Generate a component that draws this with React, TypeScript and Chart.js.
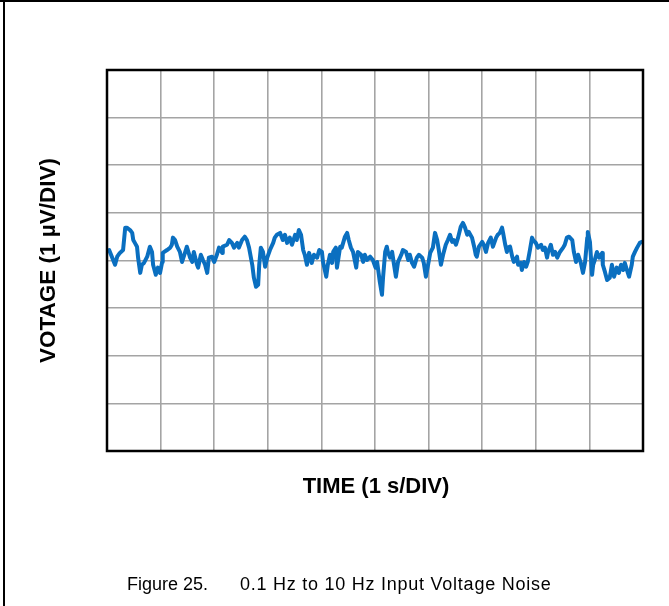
import React, { useEffect, useRef } from "react";
import { Chart, registerables } from "chart.js";

Chart.register(...registerables);

// Time axis (s) and input-referred noise voltage (µV), 0.1 Hz to 10 Hz band
const timeS: number[] = [
  0.04, 0.15, 0.19, 0.24, 0.30, 0.34, 0.37, 0.43, 0.47, 0.49, 0.52, 0.56, 0.58, 0.62, 0.65, 0.69, 0.75, 0.80, 0.84, 0.86,
  0.91, 0.95, 0.99, 1.03, 1.04, 1.12, 1.18, 1.21, 1.23, 1.27, 1.31, 1.36, 1.40, 1.46, 1.49, 1.55, 1.59, 1.62, 1.68, 1.70,
  1.75, 1.79, 1.83, 1.87, 1.90, 1.96, 2.00, 2.05, 2.09, 2.15, 2.16, 2.24, 2.28, 2.33, 2.37, 2.43, 2.46, 2.52, 2.57, 2.61,
  2.65, 2.71, 2.74, 2.78, 2.82, 2.84, 2.87, 2.91, 2.95, 2.99, 3.04, 3.10, 3.13, 3.17, 3.23, 3.28, 3.32, 3.36, 3.41, 3.45,
  3.51, 3.54, 3.58, 3.62, 3.66, 3.69, 3.73, 3.77, 3.82, 3.86, 3.92, 3.96, 4.01, 4.03, 4.09, 4.12, 4.16, 4.20, 4.22, 4.27,
  4.29, 4.35, 4.38, 4.44, 4.48, 4.51, 4.55, 4.59, 4.65, 4.68, 4.74, 4.78, 4.81, 4.85, 4.91, 4.96, 5.01, 5.04, 5.09, 5.13,
  5.15, 5.19, 5.22, 5.24, 5.28, 5.32, 5.35, 5.39, 5.43, 5.49, 5.52, 5.58, 5.62, 5.65, 5.69, 5.73, 5.78, 5.82, 5.88, 5.91,
  5.95, 5.99, 6.03, 6.08, 6.12, 6.16, 6.19, 6.23, 6.27, 6.32, 6.36, 6.40, 6.44, 6.47, 6.51, 6.55, 6.60, 6.64, 6.68, 6.72,
  6.75, 6.81, 6.85, 6.88, 6.90, 6.94, 7.00, 7.03, 7.07, 7.11, 7.16, 7.20, 7.26, 7.29, 7.33, 7.37, 7.39, 7.43, 7.46, 7.48,
  7.52, 7.56, 7.59, 7.65, 7.67, 7.72, 7.74, 7.78, 7.82, 7.85, 7.89, 7.93, 7.95, 8.00, 8.04, 8.10, 8.13, 8.17, 8.21, 8.23,
  8.28, 8.32, 8.36, 8.40, 8.45, 8.51, 8.54, 8.58, 8.62, 8.68, 8.71, 8.75, 8.79, 8.84, 8.88, 8.92, 8.96, 8.97, 9.01, 9.05,
  9.07, 9.10, 9.14, 9.18, 9.24, 9.25, 9.29, 9.33, 9.38, 9.42, 9.46, 9.51, 9.55, 9.59, 9.63, 9.66, 9.70, 9.74, 9.79, 9.81,
  9.85, 9.89, 9.94, 9.98,
];

const noiseUV: number[] = [
  0.22, -0.09, 0.08, 0.16, 0.22, 0.69, 0.69, 0.64, 0.58, 0.43, 0.37, 0.29, 0.06, -0.26, -0.09, -0.05, 0.08, 0.29, 0.18, -0.09,
  -0.30, -0.15, -0.26, -0.03, 0.16, 0.22, 0.27, 0.33, 0.48, 0.43, 0.29, 0.18, -0.03, 0.18, 0.29, 0.06, -0.03, 0.18, -0.09, -0.15,
  0.12, 0.01, -0.09, -0.26, 0.06, 0.08, -0.03, 0.12, 0.27, 0.16, 0.29, 0.33, 0.43, 0.37, 0.27, 0.37, 0.27, 0.43, 0.50, 0.43,
  0.27, -0.09, -0.36, -0.55, -0.51, -0.09, 0.27, 0.18, -0.13, 0.06, 0.22, 0.37, 0.48, 0.54, 0.58, 0.43, 0.54, 0.37, 0.48, 0.33,
  0.54, 0.43, 0.64, 0.54, 0.22, 0.12, -0.09, 0.16, -0.05, 0.12, 0.06, 0.22, 0.18, -0.03, -0.34, -0.09, 0.12, -0.05, 0.18, 0.27,
  -0.15, 0.29, 0.27, 0.50, 0.58, 0.43, 0.27, 0.18, -0.15, 0.18, 0.12, -0.03, 0.12, 0.01, 0.08, 0.01, -0.15, -0.03, -0.45, -0.72,
  -0.36, 0.18, 0.29, 0.18, 0.06, 0.18, -0.05, -0.34, -0.03, 0.12, 0.22, 0.18, 0.01, 0.12, -0.05, -0.13, 0.06, 0.12, 0.06, -0.05,
  -0.34, -0.09, 0.16, 0.27, 0.58, 0.43, 0.22, -0.09, 0.12, 0.33, 0.43, 0.54, 0.39, 0.43, 0.33, 0.48, 0.71, 0.79, 0.69, 0.54,
  0.60, 0.48, 0.29, 0.12, 0.08, 0.29, 0.39, 0.33, 0.18, 0.37, 0.48, 0.29, 0.48, 0.54, 0.58, 0.69, 0.58, 0.33, 0.18, 0.27,
  0.29, 0.08, -0.03, 0.08, -0.09, -0.05, -0.20, -0.03, -0.13, -0.03, 0.22, 0.48, 0.43, 0.37, 0.27, 0.33, 0.22, 0.27, 0.06, 0.18,
  0.33, 0.12, 0.18, 0.06, 0.18, 0.27, 0.33, 0.48, 0.50, 0.43, 0.18, -0.03, 0.12, -0.05, -0.26, -0.03, 0.48, 0.60, 0.39, -0.30,
  -0.09, 0.01, 0.18, 0.06, 0.16, -0.09, -0.24, -0.41, -0.36, -0.09, -0.34, -0.15, -0.26, -0.09, -0.20, -0.05, -0.20, -0.34, -0.09, 0.08,
  0.18, 0.27, 0.37, 0.39,
];

// 10 horizontal divisions at 1 s/DIV, 8 vertical divisions at 1 µV/DIV
const TIME_MIN = 0;
const TIME_MAX = 10;
const VOLT_MIN = -4;
const VOLT_MAX = 4;

const yTitle = "VOTAGE (1 µV/DIV)";
const xTitle = "TIME (1 s/DIV)";
const figureLabel = "Figure 25.";
const captionText = "0.1 Hz to 10 Hz Input Voltage Noise";

const W = 669;
const H = 606;

const decorPlugin = {
  id: "decor",
  beforeDraw(chart: Chart) {
    const ctx = chart.ctx;
    ctx.save();
    ctx.fillStyle = "#ffffff";
    ctx.fillRect(0, 0, W, H);
    // page frame: top and left rules
    ctx.fillStyle = "#000000";
    ctx.fillRect(0, 0, W, 2);
    ctx.fillRect(3, 0, 2, H);
    ctx.restore();
  },
  afterDraw(chart: Chart) {
    const ctx = chart.ctx;
    const a = chart.chartArea;
    ctx.save();
    // plot box
    ctx.strokeStyle = "#000000";
    ctx.lineWidth = 2.5;
    ctx.strokeRect(a.left, a.top, a.right - a.left, a.bottom - a.top);

    ctx.fillStyle = "#000000";
    // y-axis title
    ctx.save();
    ctx.translate(49, (a.top + a.bottom) / 2);
    ctx.rotate(-Math.PI / 2);
    ctx.font = "bold 22.5px 'Liberation Sans', Arial, sans-serif";
    ctx.textAlign = "center";
    ctx.textBaseline = "middle";
    ctx.fillText(yTitle, 0, 0);
    ctx.restore();

    // x-axis title
    ctx.font = "bold 22px 'Liberation Sans', Arial, sans-serif";
    ctx.textAlign = "center";
    ctx.textBaseline = "alphabetic";
    ctx.fillText(xTitle, 376, 493);

    // figure caption
    ctx.font = "18px 'Liberation Sans', Arial, sans-serif";
    ctx.textAlign = "left";
    ctx.fillText(figureLabel, 127, 590);
    (ctx as any).letterSpacing = "0.75px";
    ctx.fillText(captionText, 240, 590);
    ctx.restore();
  },
};

export default function App() {
  const canvasRef = useRef<HTMLCanvasElement | null>(null);

  useEffect(() => {
    if (!canvasRef.current) return;
    const points = timeS.map((t, i) => ({ x: t, y: noiseUV[i] }));
    const chart = new Chart(canvasRef.current, {
      type: "line",
      data: {
        datasets: [
          {
            data: points,
            borderColor: "#0a6fc0",
            borderWidth: 4,
            borderJoinStyle: "round",
            borderCapStyle: "round",
            pointRadius: 0,
            tension: 0,
            fill: false,
          },
        ],
      },
      options: {
        animation: false,
        responsive: false,
        maintainAspectRatio: false,
        devicePixelRatio: 1,
        layout: { padding: { left: 107, right: 26, top: 70, bottom: 155 } },
        plugins: {
          legend: { display: false },
          tooltip: { enabled: false },
          title: { display: false },
        },
        scales: {
          x: {
            type: "linear",
            min: TIME_MIN,
            max: TIME_MAX,
            ticks: { display: false, stepSize: 1 },
            grid: { color: "#a4a4a4", lineWidth: 1.6, drawTicks: false },
            border: { display: false },
          },
          y: {
            type: "linear",
            min: VOLT_MIN,
            max: VOLT_MAX,
            ticks: { display: false, stepSize: 1 },
            grid: { color: "#a4a4a4", lineWidth: 1.6, drawTicks: false },
            border: { display: false },
          },
        },
      },
      plugins: [decorPlugin],
    });
    return () => chart.destroy();
  }, []);

  return (
    <div style={{ position: "fixed", left: 0, top: 0, width: W, height: H, background: "#fff" }}>
      <canvas ref={canvasRef} width={W} height={H} style={{ display: "block", width: W, height: H }} />
    </div>
  );
}
